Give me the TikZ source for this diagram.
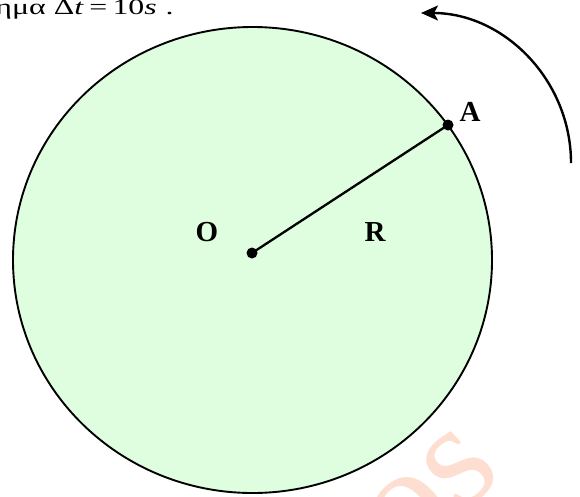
\documentclass[tikz,border=0pt]{standalone}
\usepackage{fontspec}
\setmainfont{Liberation Serif}
\usetikzlibrary{arrows.meta}
\definecolor{diskfill}{RGB}{223,254,223}
\definecolor{wmark}{RGB}{253,222,208}
\begin{document}
\begin{tikzpicture}[x=1pt,y=-1pt,
  dot/.style={circle,fill=black,inner sep=0pt,minimum size=11pt},
  lbl/.style={inner sep=0pt,font=\fontsize{29}{29}\selectfont\bfseries},
  rim/.style={line width=1.9pt,draw=black},
  spoke/.style={line width=2.3pt},
  turn/.style={line width=2.4pt,-{Stealth[length=17pt,width=15pt,inset=4pt]}}]
\useasboundingbox (0,0) rectangle (580,496);
% watermark
\node[text=wmark,rotate=42,inner sep=0pt,font=\fontsize{150}{150}\selectfont] (wm) at (432,494) {os};
% disk
\draw[rim,fill=diskfill] (252.5,260) ellipse [x radius=239.5pt, y radius=233pt];
% title fragment
\node[anchor=base east,inner sep=0pt,font=\fontsize{22}{22}\selectfont,xscale=1.45] (title) at (174,14) {ημα Δ\textit{t}\,=\,10\textit{s}\;.};
% points
\node[dot] (O) at (252,253) {};
\node[dot] (A) at (448,125) {};
\draw[spoke] (O.center) -- (A.center);
\node[lbl] (Olbl) at (207,232) {O};
\node[lbl] (Rlbl) at (375,232) {R};
\node[lbl] (Albl) at (470,112) {A};
% rotation arrow
\coordinate (arcstart) at (571,163);
\draw[turn] (arcstart) arc[start angle=0,end angle=-90,radius=150];
\end{tikzpicture}
\end{document}
